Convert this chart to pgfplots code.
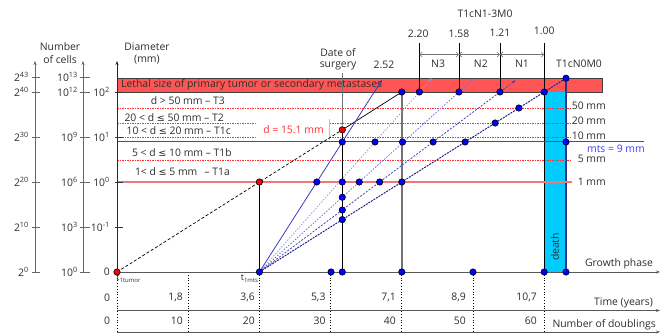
\documentclass[border=0pt]{standalone}
\usepackage{fontspec}
\setmainfont{Open Sans}
\newfontfamily\symf{DejaVu Sans}[Scale=0.92]
\usepackage{pgfplots}
\pgfplotsset{compat=1.18}
\usetikzlibrary{arrows.meta}
\definecolor{boxred}{RGB}{255,85,85}
\definecolor{dotred}{RGB}{255,45,45}
\definecolor{mmred}{RGB}{240,120,120}
\definecolor{mtsblue}{RGB}{60,60,255}
\definecolor{cyanbar}{RGB}{0,204,255}
\definecolor{la}{RGB}{60,60,190}
\definecolor{lb}{RGB}{150,150,230}
\definecolor{lc}{RGB}{115,115,210}
\definecolor{ld}{RGB}{70,70,180}
\definecolor{le}{RGB}{35,35,140}
\definecolor{navy}{RGB}{50,50,130}
\definecolor{txt}{RGB}{45,45,45}
\newcommand{\LE}{{\symf ≤}}
\tikzset{lbl/.style={inner sep=0pt, text=txt, font=\fontsize{10.4}{12}\selectfont}}
\begin{document}
\begin{tikzpicture}
\begin{axis}[name=ax, at={(0,0)}, anchor=south west,
  x=7.12pt, y=4.5pt, xmin=-16.433, xmax=76.404, ymin=-13.778, ymax=60.444,
  hide axis, clip=false]
% ---- red lethal box
\addplot[fill=boxred, draw=black!75, line width=0.7pt] coordinates {(0,40) (68.12,40) (68.12,43.1) (0,43.1) (0,40)};
% ---- death bar
\addplot[fill=cyanbar, draw=none] coordinates {(60,0) (63.06,0) (63.06,40) (60,40) (60,0)};
\addplot[black, line width=0.8pt] coordinates {(60,0) (60,40)};
\addplot[navy, line width=1.2pt] coordinates {(63.06,0) (63.06,43.06)};
% ---- diameter thresholds (dotted red)
\addplot[dotred, line width=0.6pt, dash pattern=on 1.5pt off 1pt] coordinates {(0,36.44) (63.9,36.44)};
\addplot[dotred, line width=0.6pt, dash pattern=on 1.5pt off 1pt] coordinates {(0,33.11) (63.9,33.11)};
\addplot[dotred, line width=0.6pt, dash pattern=on 1.5pt off 1pt] coordinates {(0,30) (63.9,30)};
\addplot[dotred, line width=0.6pt, dash pattern=on 1.5pt off 1pt] coordinates {(0,24.78) (63.9,24.78)};
\addplot[mmred, line width=1.6pt] coordinates {(0,20) (63.9,20)};
\addplot[mtsblue, line width=1pt] coordinates {(0,28.89) (74.0,28.89)};
% ---- white label box d = 15.1 mm
\addplot[fill=white, draw=none] coordinates {(19.52,29.3) (29.78,29.3) (29.78,33.9) (19.52,33.9) (19.52,29.3)};
\addplot[black!25, line width=0.5pt] coordinates {(29.78,29.3) (29.78,33.9)};
% ---- left axes
\addplot[black!60, line width=0.8pt, -{Stealth[length=4pt,width=3pt]}] coordinates {(-11.517,0) (-11.517,46.9)};
\addplot[black!60, line width=0.8pt, -{Stealth[length=4pt,width=3pt]}] coordinates {(-4.775,0) (-4.775,46.9)};
\addplot[black!85, line width=0.8pt, -{Stealth[length=4pt,width=3pt]}] coordinates {(0,0) (0,46.9)};
\pgfplotsinvokeforeach{0,10,20,30,40,43.33}{
  \addplot[black!60, line width=0.8pt] coordinates {(-11.94,#1) (-10.81,#1)};
  \addplot[black!60, line width=0.8pt] coordinates {(-5.2,#1) (-3.8,#1)};
}
\pgfplotsinvokeforeach{10,20,30,40}{
  \addplot[black!80, line width=0.8pt] coordinates {(-0.3,#1) (0.85,#1)};
}
% ---- bottom table
\pgfplotsinvokeforeach{0,10,20,30,40,50,60}{
  \addplot[black, line width=0.8pt, dotted] coordinates {(#1,0) (#1,-13.33)};
}
\addplot[black!65, line width=0.8pt, -{Stealth[length=4pt,width=3pt]}] coordinates {(0,0) (76.26,0)};
\addplot[black!65, line width=0.8pt, -{Stealth[length=4pt,width=3pt]}] coordinates {(0,-8.56) (76.26,-8.56)};
\addplot[black!65, line width=0.8pt, -{Stealth[length=4pt,width=3pt]}] coordinates {(0,-13.33) (76.26,-13.33)};
% ---- vertical guides
\addplot[black, line width=1pt] coordinates {(20,0) (20,20)};
\addplot[black!55, line width=1.6pt] coordinates {(40,0) (40,40)};
\addplot[black, line width=1.2pt] coordinates {(31.64,0) (31.64,31.6)};
\addplot[black!55, line width=0.5pt, -{Stealth[length=3pt,width=2.5pt]}] coordinates {(31.64,44.2) (31.64,32.5)};
% ---- rate verticals and N dimension arrows
\pgfplotsinvokeforeach{42.47,48.03,53.78,60}{
  \addplot[black, line width=0.7pt] coordinates {(#1,40) (#1,50.89)};
}
\addplot[black!55, line width=0.6pt, {Straight Barb[length=2.5pt]}-{Straight Barb[length=2.5pt]}] coordinates {(42.47,48.33) (48.03,48.33)};
\addplot[black!55, line width=0.6pt, {Straight Barb[length=2.5pt]}-{Straight Barb[length=2.5pt]}] coordinates {(48.03,48.33) (53.78,48.33)};
\addplot[black!55, line width=0.6pt, {Straight Barb[length=2.5pt]}-{Straight Barb[length=2.5pt]}] coordinates {(53.78,48.33) (60,48.33)};
% ---- primary tumor growth
\addplot[black, line width=0.7pt, dash pattern=on 3pt off 2pt] coordinates {(0,0) (31.64,31.6)};
\addplot[black, line width=0.7pt] coordinates {(31.64,31.6) (40,40)};
% ---- metastasis growth lines
\addplot[la, line width=0.8pt, -{Stealth[length=4pt,width=3pt]}] coordinates {(20,0) (37.22,42.7)};
\addplot[lb, line width=0.8pt, dash pattern=on 1.5pt off 1.5pt, -{Stealth[length=4pt,width=3pt]}] coordinates {(20,0) (44.21,43.1)};
\addplot[lc, line width=0.8pt, dash pattern=on 1.5pt off 1.5pt, -{Stealth[length=4pt,width=3pt]}] coordinates {(20,0) (50.13,43.0)};
\addplot[ld, line width=0.8pt, dash pattern=on 2pt off 1.5pt, -{Stealth[length=4pt,width=3pt]}] coordinates {(20,0) (55.98,42.6)};
\addplot[le, line width=1pt, dash pattern=on 2pt off 1pt] coordinates {(20,0) (63.06,43.06)};
% ---- blue dots
\addplot[only marks, mark=*, mark size=3.2pt, mark options={fill=blue, draw=black, line width=0.6pt}] coordinates {
 (20,0) (30.06,0) (31.64,0) (40,0) (50,0) (60,0) (63.06,0)
 (28.06,20) (31.64,20) (34.02,20) (36.89,20) (40,20)
 (31.64,16.61) (31.64,13.78) (31.64,11.64)
 (31.64,28.89) (36.23,28.89) (40.1,28.89) (44.4,28.89) (48.89,28.89) (63.06,28.89)
 (53.11,33.11) (56.44,36.44)
 (40,40) (42.47,40) (48.03,40) (53.78,40) (60,40)
 (63.06,43.06)};
% ---- red dots
\addplot[only marks, mark=*, mark size=3.2pt, mark options={fill=red, draw=black, line width=0.6pt}] coordinates {(0,0) (20,20) (31.64,31.6)};
% ================= texts
\node[lbl, anchor=west] at (axis cs:0.56,41.56) {Lethal size of primary tumor or secondary metastases};
\node[lbl] at (axis cs:-8.0,50.07) {Number};
\node[lbl] at (axis cs:-8.0,47.26) {of cells};
\node[lbl] at (axis cs:4.21,50.07) {Diameter};
\node[lbl] at (axis cs:4.21,47.26) {(mm)};
% axis 1 labels
\node[lbl, anchor=east] at (axis cs:-12.36,43.33) {2\textsuperscript{43}};
\node[lbl, anchor=east] at (axis cs:-12.36,40) {2\textsuperscript{40}};
\node[lbl, anchor=east] at (axis cs:-12.36,30) {2\textsuperscript{30}};
\node[lbl, anchor=east] at (axis cs:-12.36,20) {2\textsuperscript{20}};
\node[lbl, anchor=east] at (axis cs:-12.36,10) {2\textsuperscript{10}};
\node[lbl, anchor=east] at (axis cs:-12.36,0) {2\textsuperscript{0}};
% axis 2 labels
\node[lbl, anchor=east] at (axis cs:-5.48,43.33) {10\textsuperscript{13}};
\node[lbl, anchor=east] at (axis cs:-5.48,40) {10\textsuperscript{12}};
\node[lbl, anchor=east] at (axis cs:-5.48,30) {10\textsuperscript{9}};
\node[lbl, anchor=east] at (axis cs:-5.48,20) {10\textsuperscript{6}};
\node[lbl, anchor=east] at (axis cs:-5.48,10) {10\textsuperscript{3}};
\node[lbl, anchor=east] at (axis cs:-5.48,0) {10\textsuperscript{0}};
% axis 3 labels
\node[lbl, anchor=east] at (axis cs:-0.98,40) {10\textsuperscript{2}};
\node[lbl, anchor=east] at (axis cs:-0.98,30) {10\textsuperscript{1}};
\node[lbl, anchor=east] at (axis cs:-0.98,20) {10\textsuperscript{0}};
\node[lbl, anchor=east] at (axis cs:-0.98,10) {10\textsuperscript{-1}};
\node[lbl, anchor=east] at (axis cs:-0.98,0) {0};
% T categories
\node[lbl, anchor=east] at (axis cs:15.17,38.0) {d > 50 mm – T3};
\node[lbl, anchor=east] at (axis cs:15.03,34.4) {20 < d \LE{} 50 mm – T2};
\node[lbl, anchor=east] at (axis cs:16.01,31.33) {10 < d \LE{} 20 mm – T1c};
\node[lbl, anchor=east] at (axis cs:16.15,26.44) {5 < d \LE{} 10 mm – T1b};
\node[lbl, anchor=east] at (axis cs:15.87,22.29) {1< d \LE{} 5 mm\hspace{7pt}– T1a};
\node[lbl, text=dotred] at (axis cs:24.79,31.56) {d = 15.1 mm};
% right labels
\node[lbl, anchor=east] at (axis cs:68.68,36.9) {50 mm};
\node[lbl, anchor=east] at (axis cs:68.68,33.6) {20 mm};
\node[lbl, anchor=east] at (axis cs:68.68,30.2) {10 mm};
\node[lbl, anchor=east] at (axis cs:68.68,25.1) {5 mm};
\node[lbl, anchor=east] at (axis cs:68.68,20.07) {1 mm};
\node[lbl, anchor=west, text=mtsblue] at (axis cs:66.0,27.3) {mts = 9 mm};
% top labels
\node[lbl] at (axis cs:51.69,57.3) {T1cN1-3M0};
\node[lbl] at (axis cs:42.3,52.9) {2.20};
\node[lbl] at (axis cs:48.03,52.9) {1.58};
\node[lbl] at (axis cs:53.78,53.2) {1.21};
\node[lbl] at (axis cs:60,53.6) {1.00};
\node[lbl] at (axis cs:45.1,46.2) {N3};
\node[lbl] at (axis cs:51.1,46.2) {N2};
\node[lbl] at (axis cs:56.88,46.2) {N1};
\node[lbl] at (axis cs:64.89,46.2) {T1cN0M0};
\node[lbl] at (axis cs:37.5,46.0) {2.52};
\node[lbl] at (axis cs:31.04,48.82) {Date of};
\node[lbl] at (axis cs:31.04,45.84) {surgery};
% bottom labels
\node[lbl, anchor=east] at (axis cs:75.3,1.78) {Growth phase};
\node[lbl, anchor=east] at (axis cs:75.3,-6.82) {Time (years)};
\node[lbl, anchor=east] at (axis cs:75.7,-11.78) {Number of doublings};
\node[lbl] at (axis cs:-1.4,-5.62) {0};
\node[lbl] at (axis cs:-1.4,-10.89) {0};
\node[lbl, anchor=east] at (axis cs:9.27,-5.62) {1,8};
\node[lbl, anchor=east] at (axis cs:19.38,-5.62) {3,6};
\node[lbl, anchor=east] at (axis cs:29.31,-5.62) {5,3};
\node[lbl, anchor=east] at (axis cs:39.19,-5.62) {7,1};
\node[lbl, anchor=east] at (axis cs:49.02,-5.62) {8,9};
\node[lbl, anchor=east] at (axis cs:58.99,-5.62) {10,7};
\node[lbl, anchor=east] at (axis cs:9.27,-10.89) {10};
\node[lbl, anchor=east] at (axis cs:19.38,-10.89) {20};
\node[lbl, anchor=east] at (axis cs:29.31,-10.89) {30};
\node[lbl, anchor=east] at (axis cs:39.19,-10.89) {40};
\node[lbl, anchor=east] at (axis cs:49.02,-10.89) {50};
\node[lbl, anchor=east] at (axis cs:58.99,-10.89) {60};
\node[lbl, rotate=90] at (axis cs:61.5,5.56) {death};
\node[inner sep=0pt, text=txt, anchor=north west, font=\fontsize{9}{9}\selectfont] at (axis cs:-0.1,-0.6) {t\textsubscript{1tumor}};
\node[inner sep=0pt, text=txt, anchor=north east, font=\fontsize{9}{9}\selectfont] at (axis cs:19.9,-0.6) {t\textsubscript{1mts}};
\end{axis}
\pgfresetboundingbox
\path[use as bounding box] (ax.south west) rectangle (ax.north east);
\end{tikzpicture}
\end{document}
